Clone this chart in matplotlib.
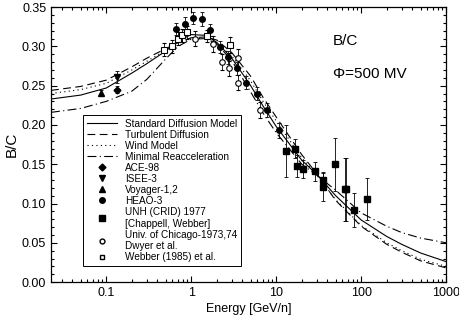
import matplotlib
matplotlib.use("Agg")
import matplotlib.pyplot as plt
from matplotlib.ticker import FixedLocator, FixedFormatter, MultipleLocator, LogLocator, NullFormatter
from matplotlib.lines import Line2D

plt.rcParams['font.family'] = ['Liberation Sans', 'DejaVu Sans']

# Model curves
E_model = [0.0224, 0.05, 0.1, 0.2, 0.3, 0.5, 0.7, 1, 1.5, 2, 3, 5, 7, 10, 20, 30, 50, 100, 200, 300, 500, 1000]
std_diff = [0.233, 0.238, 0.247, 0.266, 0.278, 0.294, 0.307, 0.315, 0.314, 0.305, 0.285, 0.250, 0.224, 0.198, 0.155, 0.137, 0.110, 0.079, 0.058, 0.048, 0.037, 0.026]
turb_diff = [0.244, 0.249, 0.257, 0.274, 0.285, 0.297, 0.305, 0.311, 0.312, 0.308, 0.292, 0.262, 0.235, 0.210, 0.162, 0.138, 0.104, 0.071, 0.048, 0.038, 0.027, 0.018]
wind = [0.240, 0.245, 0.253, 0.270, 0.281, 0.295, 0.304, 0.310, 0.310, 0.304, 0.288, 0.256, 0.230, 0.205, 0.158, 0.136, 0.105, 0.072, 0.050, 0.040, 0.029, 0.020]
min_reacc = [0.216, 0.221, 0.230, 0.243, 0.258, 0.284, 0.300, 0.309, 0.310, 0.303, 0.282, 0.242, 0.215, 0.190, 0.150, 0.136, 0.117, 0.088, 0.071, 0.063, 0.056, 0.050]

# Data sets
ace_E = [0.135]; ace_v = [0.245]; ace_err = [0.004]
isee_E = [0.135]; isee_v = [0.261]; isee_err = [0.008]
voy_E = [0.087]; voy_v = [0.241]; voy_err = [0.004]
heao_E = [0.67, 0.85, 1.06, 1.35, 1.67, 2.19, 2.72, 3.48, 4.44, 5.97, 7.84, 10.8]
heao_v = [0.322, 0.329, 0.336, 0.335, 0.321, 0.299, 0.286, 0.272, 0.254, 0.240, 0.219, 0.193]
heao_err = [0.008, 0.008, 0.008, 0.009, 0.008, 0.008, 0.008, 0.008, 0.008, 0.008, 0.009, 0.010]
unh_E = [13.1, 16.7, 17.7, 20.8, 28.8, 35.7, 35.7, 49.4, 64.9, 66.5, 82.8, 118]
unh_v = [0.167, 0.170, 0.148, 0.144, 0.141, 0.130, 0.121, 0.150, 0.118, 0.118, 0.092, 0.106]
unh_err = [0.033, 0.012, 0.014, 0.012, 0.012, 0.010, 0.018, 0.034, 0.040, 0.040, 0.022, 0.027]
chi_E = [1.11, 1.82, 2.32, 2.80, 3.57, 3.57, 6.48]
chi_v = [0.310, 0.303, 0.280, 0.272, 0.285, 0.254, 0.219]
chi_err = [0.010, 0.010, 0.010, 0.010, 0.012, 0.010, 0.010]
web_E = [0.48, 0.60, 0.70, 0.78, 0.90, 1.54, 2.88]
web_v = [0.296, 0.300, 0.310, 0.314, 0.318, 0.313, 0.302]
web_err = [0.008, 0.008, 0.008, 0.008, 0.008, 0.008, 0.010]

x_ticks = [0.1, 1, 10, 100, 1000]
x_labels = ['0.1', '1', '10', '100', '1000']
y_ticks = [0.00, 0.05, 0.10, 0.15, 0.20, 0.25, 0.30, 0.35]

fig = plt.figure(figsize=(4.6, 3.22), dpi=100)
ax = fig.add_axes([0.111, 0.124, 0.859, 0.854])

lw = 0.8
l1, = ax.plot(E_model, std_diff, color='black', lw=lw, ls='-')
l2, = ax.plot(E_model, turb_diff, color='black', lw=lw, ls=(0, (7, 4)))
l3, = ax.plot(E_model, wind, color='black', lw=lw, ls=(0, (1, 3)))
l4, = ax.plot(E_model, min_reacc, color='black', lw=lw, ls=(0, (8, 3, 1, 3)))

eb = dict(ecolor='black', elinewidth=0.6, capsize=1.5, capthick=0.6, ls='none')
ax.errorbar(ace_E, ace_v, yerr=ace_err, fmt='D', ms=3.5, mfc='black', mec='black', **eb)
ax.errorbar(isee_E, isee_v, yerr=isee_err, fmt='v', ms=4.2, mfc='black', mec='black', **eb)
ax.errorbar(voy_E, voy_v, yerr=voy_err, fmt='^', ms=4.2, mfc='black', mec='black', **eb)
ax.errorbar(heao_E, heao_v, yerr=heao_err, fmt='o', ms=4, mfc='black', mec='black', **eb)
ax.errorbar(unh_E, unh_v, yerr=unh_err, fmt='s', ms=4.3, mfc='black', mec='black', **eb)
ax.errorbar(chi_E, chi_v, yerr=chi_err, fmt='o', ms=4, mfc='white', mec='black', mew=0.8, **eb)
ax.errorbar(web_E, web_v, yerr=web_err, fmt='s', ms=4, mfc='white', mec='black', mew=0.8, **eb)

ax.set_xscale('log')
ax.set_xlim(0.0224, 1000)
ax.set_ylim(0.0, 0.35)
ax.xaxis.set_major_locator(FixedLocator(x_ticks))
ax.xaxis.set_major_formatter(FixedFormatter(x_labels))
ax.xaxis.set_minor_locator(LogLocator(base=10, subs=[2, 3, 4, 5, 6, 7, 8, 9], numticks=20))
ax.xaxis.set_minor_formatter(NullFormatter())
ax.yaxis.set_major_locator(FixedLocator(y_ticks))
ax.yaxis.set_major_formatter(FixedFormatter(['%.2f' % v for v in y_ticks]))
ax.yaxis.set_minor_locator(MultipleLocator(0.01))
ax.tick_params(which='both', direction='in', top=True, right=True, labelsize=9, width=0.8)
ax.tick_params(which='major', length=4)
ax.tick_params(which='minor', length=2)
for s in ax.spines.values():
    s.set_linewidth(0.9)

ax.set_xlabel('Energy [GeV/n]', fontsize=9, labelpad=3)
ax.set_ylabel('B/C', fontsize=11, labelpad=2)

ax.text(0.713, 0.875, 'B/C', transform=ax.transAxes, fontsize=11, va='center', ha='left')
ax.text(0.713, 0.755, '\u03a6=500 MV', transform=ax.transAxes, fontsize=11, va='center', ha='left')

handles = [
    l1, l2, l3, l4,
    Line2D([], [], ls='none', marker='D', ms=3.5, mfc='black', mec='black'),
    Line2D([], [], ls='none', marker='v', ms=4, mfc='black', mec='black'),
    Line2D([], [], ls='none', marker='^', ms=4, mfc='black', mec='black'),
    Line2D([], [], ls='none', marker='o', ms=4, mfc='black', mec='black'),
    Line2D([], [], ls='none', marker='s', ms=4, mfc='black', mec='black'),
    Line2D([], [], ls='none', marker='o', ms=3.5, mfc='white', mec='black'),
    Line2D([], [], ls='none', marker='s', ms=3.5, mfc='white', mec='black'),
]
labels = ['Standard Diffusion Model', 'Turbulent Diffusion', 'Wind Model', 'Minimal Reacceleration',
          'ACE-98', 'ISEE-3', 'Voyager-1,2', 'HEAO-3',
          'UNH (CRID) 1977\n[Chappell, Webber]', 'Univ. of Chicago-1973,74\nDwyer et al.',
          'Webber (1985) et al.']
leg = ax.legend(handles, labels, loc='lower left', bbox_to_anchor=(0.081, 0.058), fontsize=7.2,
                frameon=True, fancybox=False, edgecolor='black', framealpha=1,
                handlelength=3.0, handletextpad=0.8, labelspacing=0.1, borderpad=0.4,
                borderaxespad=0)
leg.get_frame().set_linewidth(0.7)

fig.savefig('out.png', dpi=100)
